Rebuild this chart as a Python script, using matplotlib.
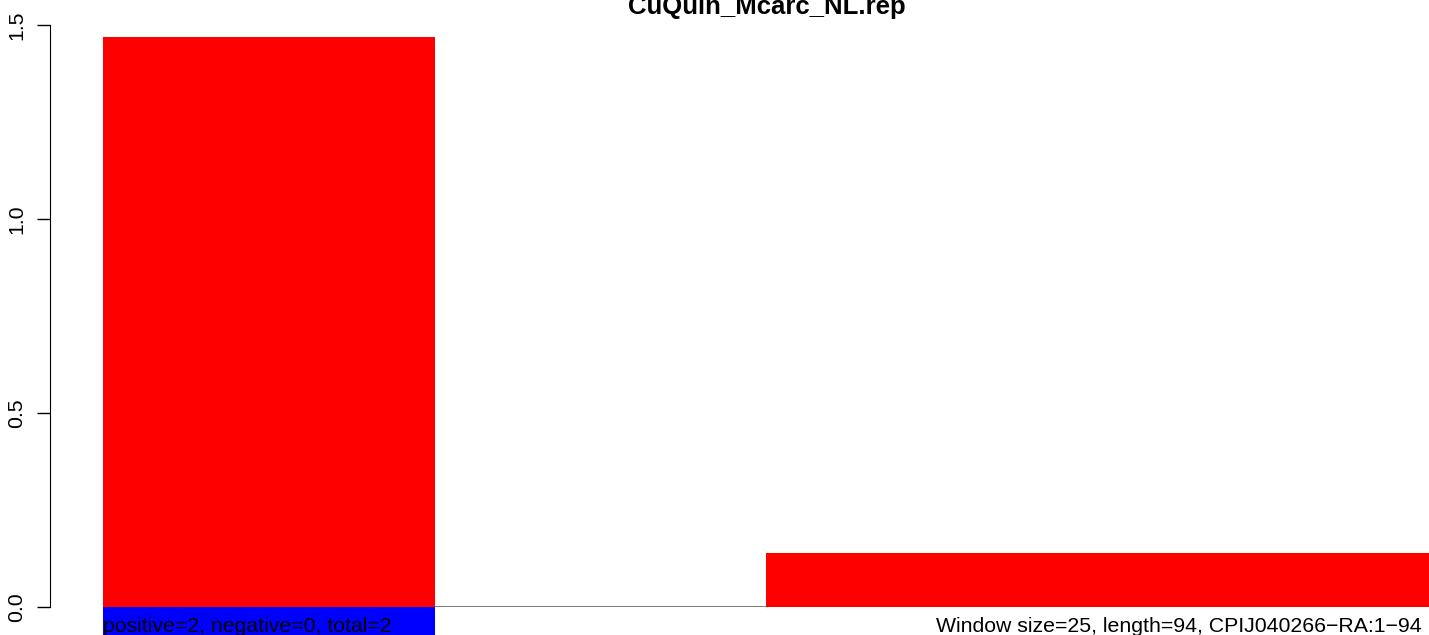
import numpy as np
import matplotlib
matplotlib.use("Agg")
import matplotlib.pyplot as plt

plt.rcParams['font.family'] = ['Liberation Sans', 'DejaVu Sans']

# window bars (residue positions) and their scores
bar_left = [0.0, 47.0]
bar_right = [23.5, 94.0]
bar_score = [1.47, 0.139]
seq_len = 94
title = "CuQuin_Mcarc_NL.rep"
yticks = [0.0, 0.5, 1.0, 1.5]
left_note = "positive=2, negative=0, total=2"
right_note = "Window size=25, length=94, CPIJ040266\u2212RA:1\u221294"

W, H = 1429, 635
fig = plt.figure(figsize=(W / 100, H / 100), dpi=100)
ax = fig.add_axes([103 / W, (H - 607) / H, (1429 - 103) / W, (607 - 25) / H])

ax.axhline(0, color='#808080', lw=1.5, zorder=1)
left = np.array(bar_left)
width = np.array(bar_right) - left
ax.bar(left, bar_score, width=width, align='edge', color='#ff0000', zorder=2)
# blue strip under the positive window
ax.bar(left[:1], [-0.1], width=width[:1], align='edge', color='#0000ff',
       zorder=2, clip_on=False)

for s in ['top', 'right', 'bottom']:
    ax.spines[s].set_visible(False)
ax.spines['left'].set_position(('outward', 38))

ax.set_xlim(0, seq_len)
ax.set_ylim(0, 1.5)
ax.set_xticks([])
ax.set_yticks(yticks)
ax.set_yticklabels([f"{v:.1f}" for v in yticks], rotation=90, va='center', fontsize=15.3)
ax.tick_params(axis='y', length=9.4, width=1, pad=8)

fig.text(767 / W, 1 - 14 / H, title, ha='center', va='baseline',
         fontsize=18.5, fontweight='bold')
fig.text(103 / W, 3 / H, left_note, ha='left', va='baseline', fontsize=15.3)
fig.text(1422 / W, 3 / H, right_note, ha='right', va='baseline', fontsize=15.3)

fig.savefig("out.png", dpi=100)
